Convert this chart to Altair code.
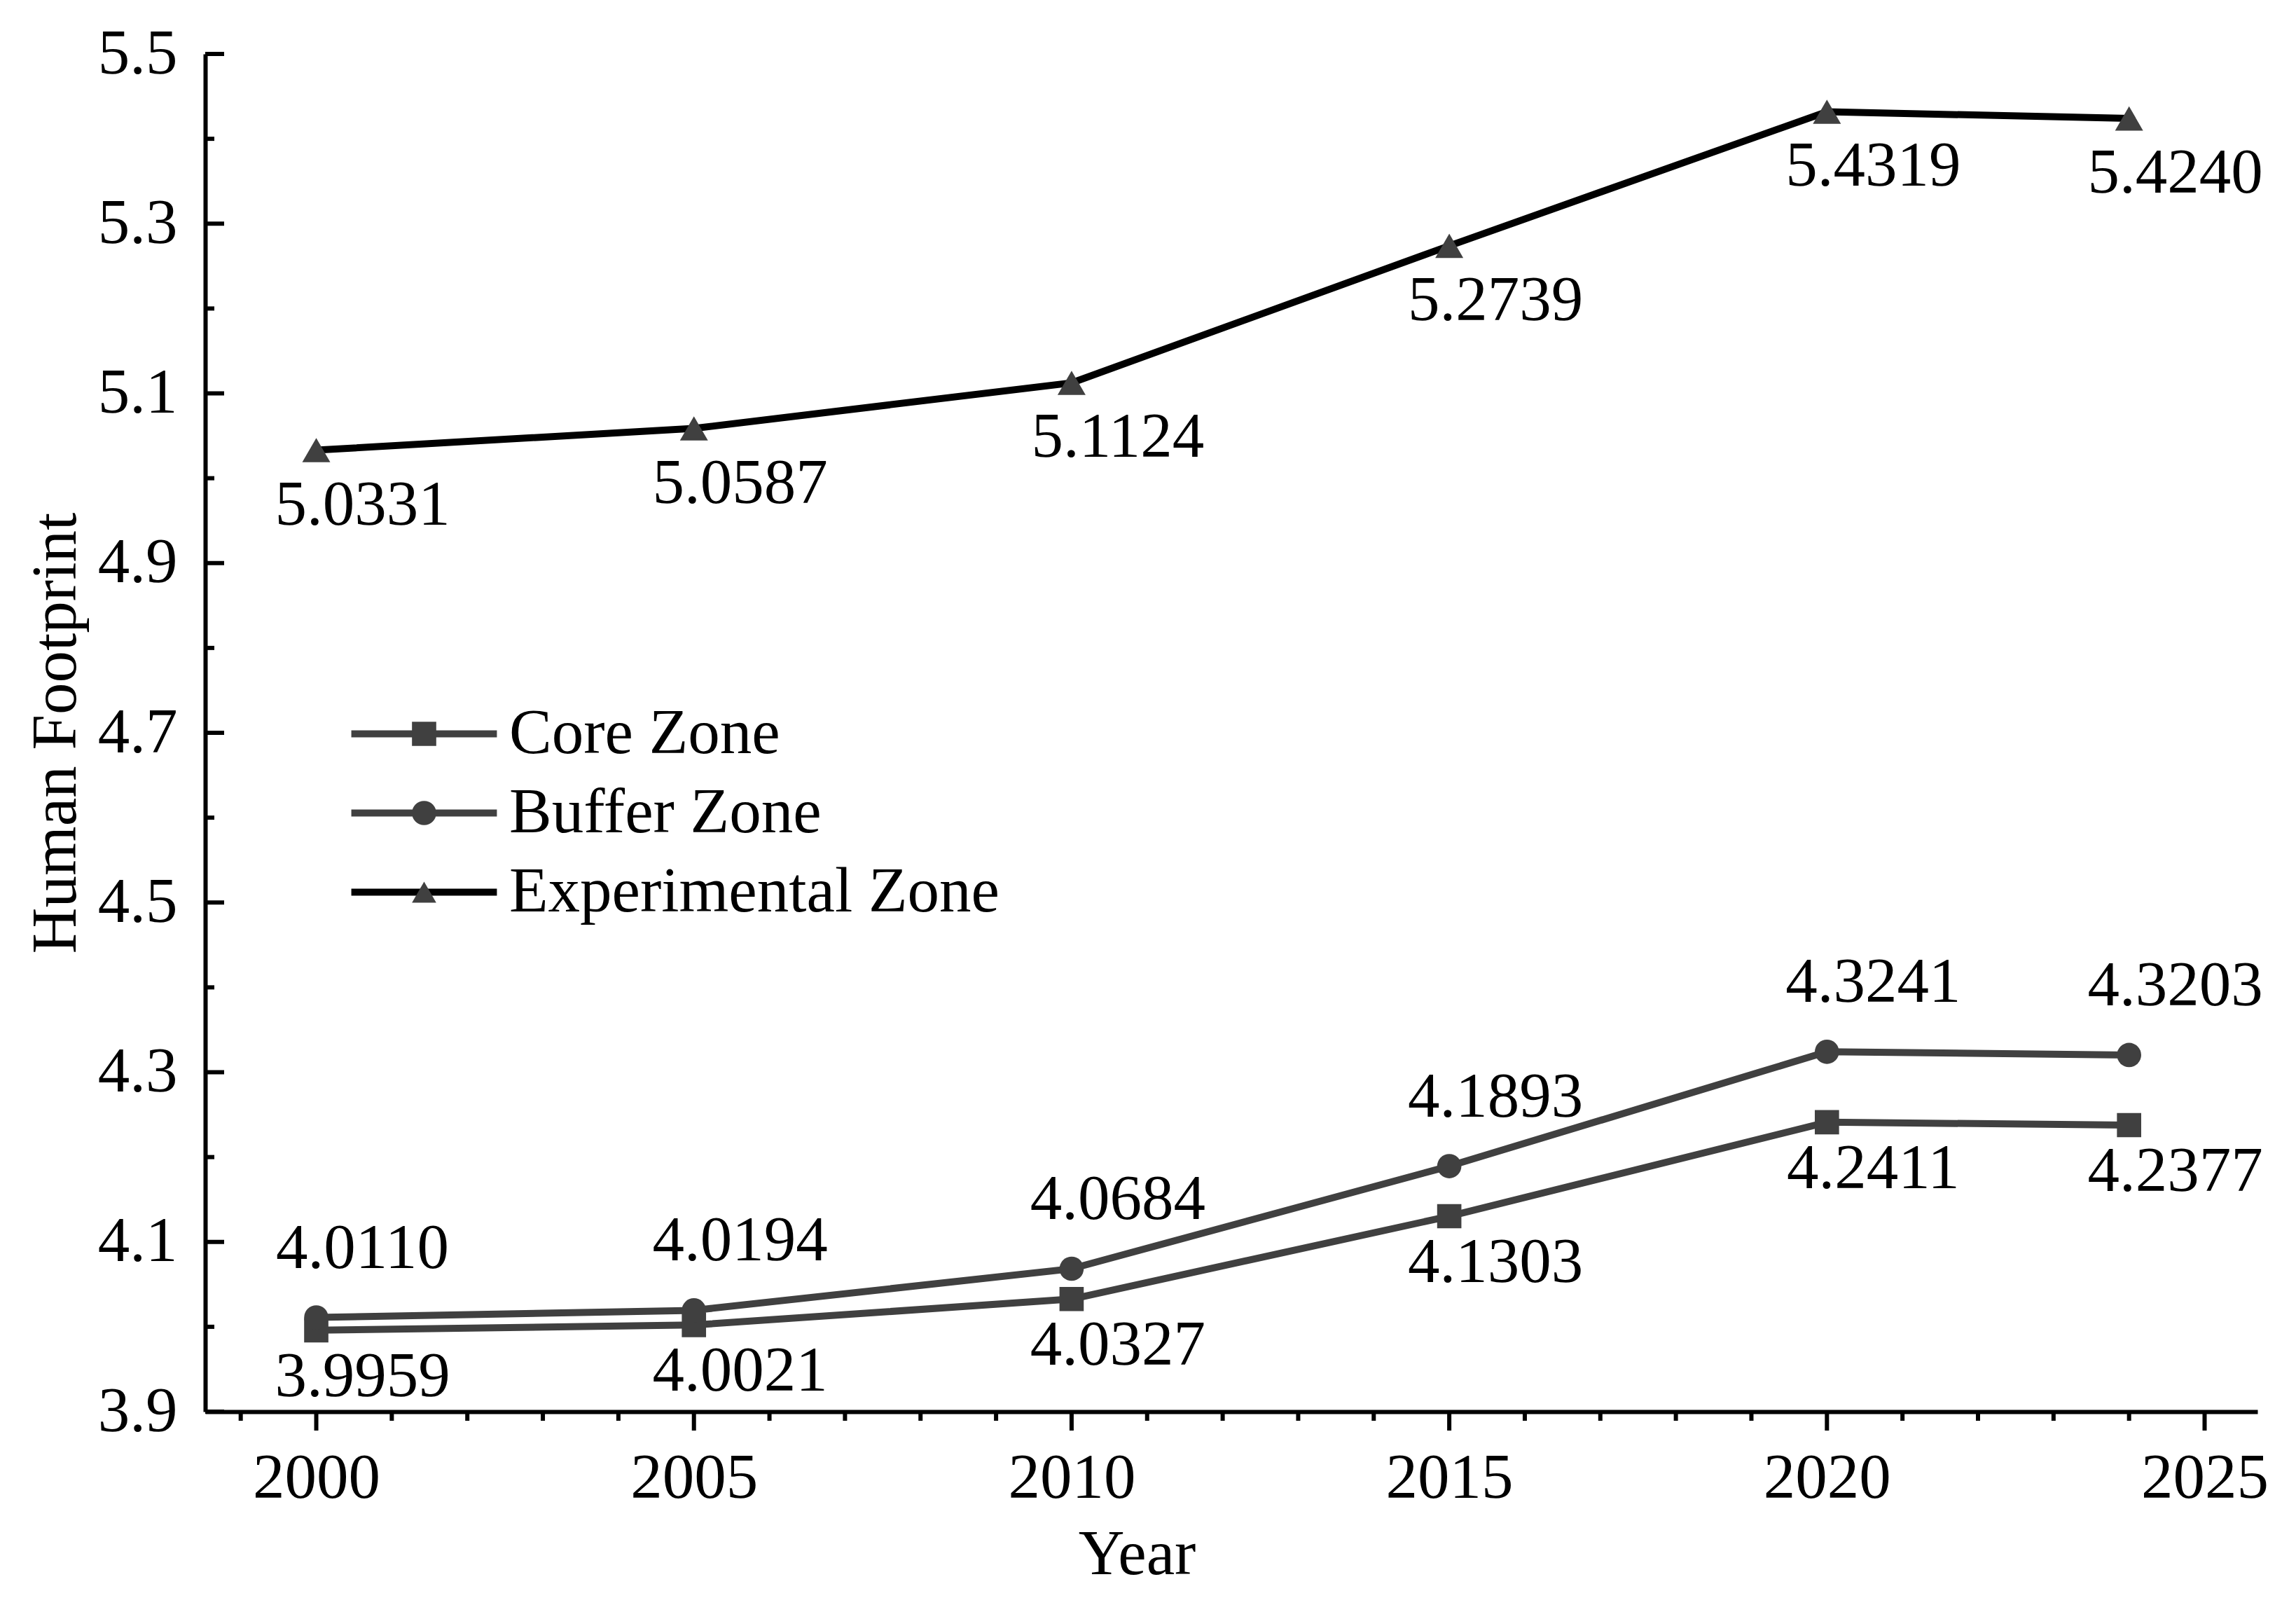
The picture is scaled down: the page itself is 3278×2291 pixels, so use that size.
import altair as alt
import pandas as pd

# ---- data ----
years = [2000, 2005, 2010, 2015, 2020, 2024]
core = [3.9959, 4.0021, 4.0327, 4.1303, 4.2411, 4.2377]
buffer = [4.0110, 4.0194, 4.0684, 4.1893, 4.3241, 4.3203]
experimental = [5.0331, 5.0587, 5.1124, 5.2739, 5.4319, 5.4240]
series = ["Core Zone", "Buffer Zone", "Experimental Zone"]

x_major = [2000, 2005, 2010, 2015, 2020, 2025]
x_minor = [1999, 2001, 2002, 2003, 2004, 2006, 2007, 2008, 2009, 2011, 2012, 2013,
           2014, 2016, 2017, 2018, 2019, 2021, 2022, 2023, 2024]
y_major = [3.9, 4.1, 4.3, 4.5, 4.7, 4.9, 5.1, 5.3, 5.5]
y_minor = [4.0, 4.2, 4.4, 4.6, 4.8, 5.0, 5.2, 5.4]

# ---- styling ----
W, H = 2930, 1938
FONT = "Liberation Serif"
FS = 91
GRAY = "#404040"
MAJ, MIN = 27, 13

rows = []
for name, vals in zip(series, [core, buffer, experimental]):
    for yr, v in zip(years, vals):
        rows.append({"year": yr, "value": v, "series": name, "series_s": name,
                     "label": f"{v:.4f}"})
df = pd.DataFrame(rows)

xs = alt.Scale(domain=[1998.53, 2025.7], nice=False, zero=False)
ys = alt.Scale(domain=[3.9, 5.5], nice=False, zero=False)

x_axis = alt.Axis(values=x_major, format="d", ticks=False, grid=False,
                  domainColor="black", domainWidth=6,
                  labelFont=FONT, labelFontSize=FS, labelColor="black", labelLimit=2000,
                  labelPadding=122, labelBaseline="alphabetic", labelFlush=False,
                  title="Year", titleFont=FONT, titleFontSize=FS, titleFontWeight="normal",
                  titleColor="black", titleX=1330, titleY=231, titleLimit=3000,
                  titleBaseline="alphabetic", titleAlign="center")
y_axis = alt.Axis(values=y_major, format=".1f", ticks=False, grid=False,
                  domainColor="black", domainWidth=6,
                  labelFont=FONT, labelFontSize=FS, labelColor="black", labelLimit=2000,
                  labelPadding=40, labelBaseline="middle",
                  title="Human Footprint", titleFont=FONT, titleFontSize=FS,
                  titleFontWeight="normal", titleColor="black", titleLimit=3000,
                  titleX=-186, titleY=969, titleAngle=270,
                  titleBaseline="alphabetic", titleAlign="center")

X = alt.X("year:Q", scale=xs, axis=x_axis, title="Year")
Y = alt.Y("value:Q", scale=ys, axis=y_axis, title="Human Footprint")

LEG_X, LEG_Y = 267, 925
leg_common = dict(title=None, orient="none", legendX=LEG_X, legendY=LEG_Y,
                  symbolSize=1200, symbolStrokeWidth=10,
                  labelFont=FONT, labelFontSize=FS, labelOffset=76, labelLimit=3000,
                  rowPadding=21, padding=0)

base = alt.Chart(df)

lines = base.mark_line(strokeWidth=10, strokeJoin="round").encode(
    x=X, y=Y,
    color=alt.Color("series:N",
                    scale=alt.Scale(domain=series, range=[GRAY, GRAY, "#000000"]),
                    legend=alt.Legend(symbolType="M-6.0,0H6.0", labelColor="black",
                                      **leg_common)),
    order=alt.Order("year:Q"),
)

SHAPE = alt.Shape("series_s:N", sort=series,
                  scale=alt.Scale(range=["square", "circle", "triangle-up"]),
                  legend=alt.Legend(symbolFillColor=GRAY, symbolStrokeColor="transparent",
                                    labelOpacity=0, **leg_common))


def point_layer(name, size):
    return base.transform_filter(alt.datum.series == name).mark_point(
        filled=True, color=GRAY, opacity=1, strokeWidth=0, size=size).encode(
        x=X, y=Y, shape=SHAPE)


p_core = point_layer("Core Zone", 1200)
p_buf = point_layer("Buffer Zone", 1200)
p_exp = point_layer("Experimental Zone", 1600)


def value_labels(name, dy):
    return base.transform_filter(alt.datum.series == name).mark_text(
        dx=66, dy=dy, font=FONT, fontSize=FS, color="black",
        baseline="middle", align="center").encode(
        x=X, y=Y, text="label:N")


t_core = value_labels("Core Zone", 67)
t_buf = value_labels("Buffer Zone", -98)
t_exp = value_labels("Experimental Zone", 79)


def x_ticks(vals, length):
    return alt.Chart(pd.DataFrame({"year": vals})).mark_rule(color="black", strokeWidth=6).encode(
        x=X, y=alt.value(H), y2=alt.value(H + length))


def y_ticks(vals, length):
    return alt.Chart(pd.DataFrame({"value": vals})).mark_rule(color="black", strokeWidth=6).encode(
        y=Y, x=alt.value(0), x2=alt.value(length))


chart = alt.layer(
    lines, p_core, p_buf, p_exp, t_core, t_buf, t_exp,
    x_ticks(x_major, MAJ), x_ticks(x_minor, MIN),
    y_ticks(y_major, MAJ), y_ticks(y_minor, MIN),
).properties(
    width=W, height=H,
    autosize=alt.AutoSizeParams(type="none"),
    padding={"left": 285, "top": 69, "right": 40, "bottom": 250},
    background="white",
).configure_view(stroke=None)

chart.save("out.html", embed_options={"renderer": "svg", "actions": False})
